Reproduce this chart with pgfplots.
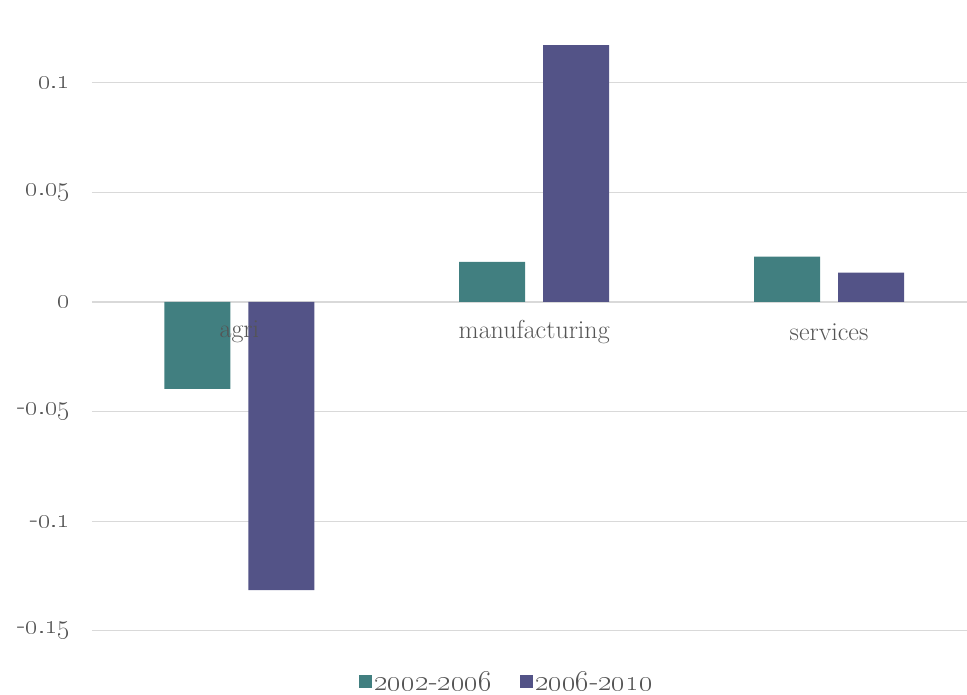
\RequirePackage{fix-cm}
\documentclass[border=0pt]{standalone}
\usepackage{pgfplots}
\pgfplotsset{compat=1.18}
\definecolor{tealc}{HTML}{417F80}
\definecolor{purpc}{HTML}{535387}
\definecolor{txt}{HTML}{555555}
\definecolor{gridc}{HTML}{D9D9D9}
\newcommand{\osn}[1]{\oldstylenums{#1}}
\begin{document}
\begin{tikzpicture}
\begin{axis}[name=ax, scale only axis, width=875pt, height=635.7pt,
  xmin=-0.5, xmax=2.468, ymin=-0.16, ymax=0.13,
  axis x line=middle, axis y line=left, axis line style={draw=none},
  ymajorgrids, grid style={gridc, line width=1.2pt},
  ybar, bar width=66pt,
  xtick=\empty,
  ytick={-0.15,-0.1,-0.05,0,0.05,0.1},
  yticklabels={-\osn{0.15},-\osn{0.1},-\osn{0.05},\osn{0},\osn{0.05},\osn{0.1}},
  major tick length=0pt,
  tick label style={font=\fontsize{27}{30}\selectfont, text=txt},
  yticklabel style={anchor=east, xshift=-18pt},
  legend columns=2,
  legend style={at={(0.4743,0)}, anchor=center, yshift=-29pt, draw=none,
    font=\fontsize{29}{32}\selectfont, text=txt, inner sep=0pt,
    /tikz/every even column/.append style={column sep=26pt}},
  legend image code/.code={\fill[#1] (0pt,-6pt) rectangle (13pt,7pt);},
]
\addplot[fill=tealc, draw=none, bar shift=-42pt] coordinates {(0,-0.0397) (1,0.0183) (2,0.0207)};
\addplot[fill=purpc, draw=none, bar shift=42pt] coordinates {(0,-0.1314) (1,0.1172) (2,0.0134)};
\legend{\osn{2002}-\osn{2006},\osn{2006}-\osn{2010}}
\node[anchor=center, font=\fontsize{26}{30}\selectfont, text=txt] at (axis cs:0,-0.0137) {agri};
\node[anchor=center, font=\fontsize{26}{30}\selectfont, text=txt] at (axis cs:1,-0.0137) {manufacturing};
\node[anchor=center, font=\fontsize{26}{30}\selectfont, text=txt] at (axis cs:2,-0.0137) {services};
\end{axis}
\pgfresetboundingbox
\path[use as bounding box] ([xshift=-92pt,yshift=-41.3pt]ax.south west) rectangle ([yshift=17pt]ax.north east);
\end{tikzpicture}
\end{document}
